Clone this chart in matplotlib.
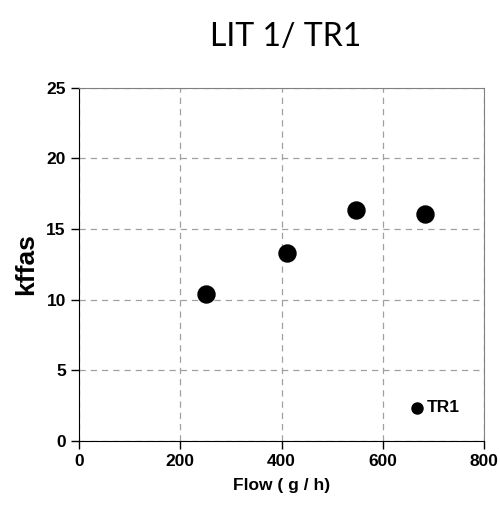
import matplotlib
matplotlib.use("Agg")
import matplotlib.pyplot as plt

flow = [250, 410, 548, 684]
kffas = [10.4, 13.3, 16.35, 16.05]
series_name = "TR1"
title = "LIT 1/ TR1"
x_ticks = [0, 200, 400, 600, 800]
y_ticks = [0, 5, 10, 15, 20, 25]

plt.rcParams["font.family"] = ["Liberation Sans", "DejaVu Sans"]

fig = plt.figure(figsize=(5.0, 5.07), dpi=100)
ax = fig.add_axes([0.158, 0.13, 0.81, 0.697])

ax.scatter(flow, kffas, s=150, color="black", zorder=3, label=series_name)

ax.set_xlim(0, 800)
ax.set_ylim(0, 25)
ax.set_xticks(x_ticks)
ax.set_yticks(y_ticks)
ax.tick_params(direction="out", length=6, width=1, labelsize=12.5)
for lab in ax.get_xticklabels() + ax.get_yticklabels():
    lab.set_fontweight("bold")

ax.grid(True, linestyle=(0, (5, 4)), color="#a0a0a0", linewidth=0.9)
ax.set_axisbelow(True)
for side in ["top", "right"]:
    ax.spines[side].set_color("#808080")
for side in ["left", "bottom"]:
    ax.spines[side].set_color("black")

ax.set_xlabel("Flow ( g / h)", fontsize=12.5, fontweight="bold", labelpad=6)
ax.set_ylabel("kffas", fontsize=19, fontweight="bold", labelpad=6)

fig.text(0.572, 0.928, title, fontsize=23, family=["Lato", "DejaVu Sans"],
         ha="center", va="center")

leg = ax.legend(loc="center right", bbox_to_anchor=(0.958, 0.095), borderaxespad=0,
                frameon=False, fontsize=12.5, handletextpad=0.15,
                handlelength=0.8, markerscale=0.65)
for t in leg.get_texts():
    t.set_fontweight("bold")

fig.savefig("out.png", dpi=100)
